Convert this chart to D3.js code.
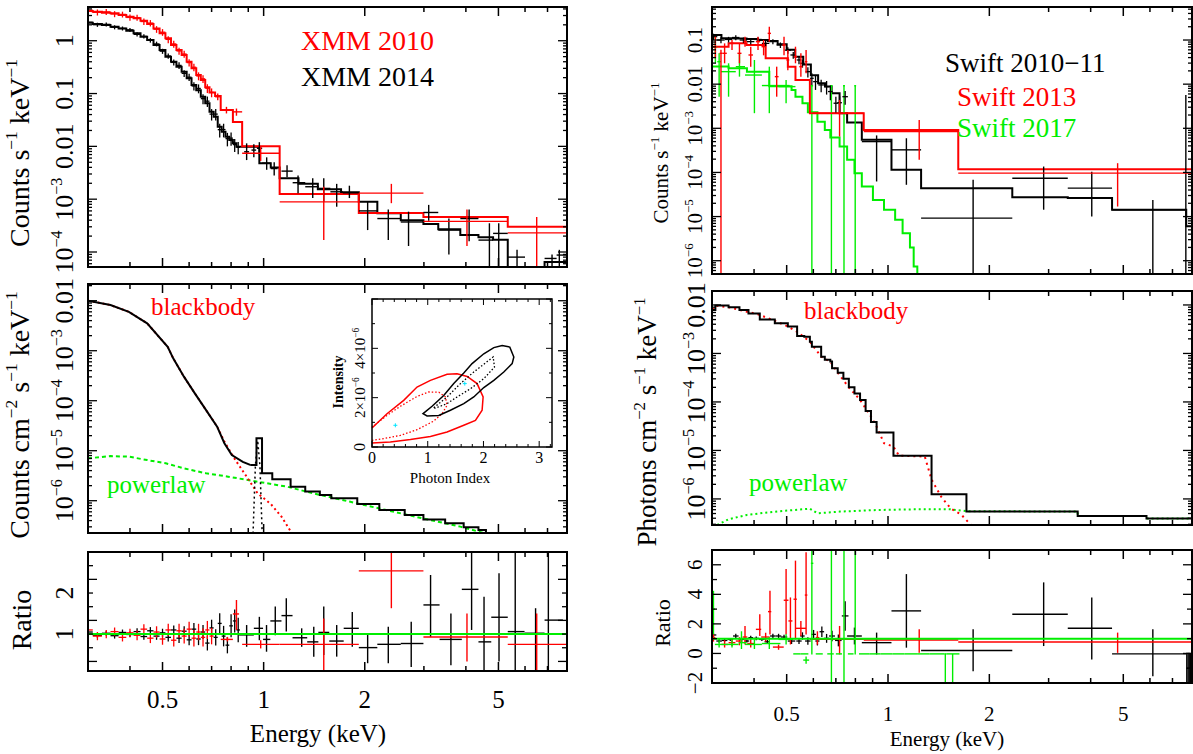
<!DOCTYPE html>
<html>
<head>
<meta charset="utf-8">
<script src="https://cdn.jsdelivr.net/npm/d3@7"></script>
<style>
  body { margin: 0; background: #fff; }
  svg { display: block; }
  text, tspan { font-family: "Liberation Serif", "DejaVu Serif", "Times New Roman", serif; }
</style>
</head>
<body>
<svg id="fig" width="1193" height="754" font-family="Liberation Serif, DejaVu Serif, serif"></svg>
<script>
// ---------------- data (energies in keV) ----------------
const energyTicks = [0.3, 0.4, 0.5, 0.6, 0.7, 0.8, 0.9, 1, 2, 3, 4, 5, 6, 7, 8];
const energyLabels = [0.5, 1, 2, 5];

// XMM folded spectra: dense points [E, rate, err]
const xmm2010Dense = [[0.30,3.78,0.5],[0.32,3.45,0.45],[0.34,3.52,0.45],[0.36,3.21,0.42],[0.38,3.15,0.4],[0.40,2.76,0.37],
  [0.42,2.74,0.35],[0.44,2.31,0.32],[0.46,2.16,0.3],[0.48,1.65,0.24],[0.50,1.45,0.21],[0.52,1.06,0.16],[0.54,0.87,0.13],
  [0.56,0.64,0.1],[0.58,0.56,0.085],[0.60,0.385,0.06],[0.62,0.315,0.05],[0.64,0.215,0.037],[0.66,0.19,0.032],
  [0.68,0.126,0.024],[0.70,0.105,0.02]];
const xmm2014Dense = [[0.30,2.24,0.2],[0.32,2.01,0.18],[0.34,2.04,0.18],[0.36,1.80,0.16],[0.38,1.71,0.15],[0.40,1.61,0.14],
  [0.42,1.32,0.12],[0.44,1.21,0.11],[0.46,1.02,0.1],[0.48,0.87,0.09],[0.50,0.634,0.07],[0.52,0.514,0.06],[0.54,0.389,0.05],
  [0.56,0.341,0.05],[0.58,0.241,0.035],[0.60,0.204,0.032],[0.62,0.139,0.025],[0.64,0.125,0.024],[0.66,0.080,0.017],
  [0.68,0.0717,0.016],[0.70,0.0408,0.01],[0.72,0.0408,0.01],[0.74,0.0207,0.006],[0.76,0.0208,0.006],[0.78,0.0140,0.004],
  [0.80,0.0143,0.004],[0.82,0.0108,0.003],[0.84,0.0096,0.0025]];
// binned points [Elo, Ehi, E, value, low, high]
const xmm2010Bins = [[0.717,0.745,0.73,0.087,0.075,0.1],[0.745,0.81,0.775,0.0487,0.042,0.056],[0.81,0.863,0.83,0.045,0.038,0.052],
  [0.863,1.116,0.98,0.0074,0.0053,0.0098],[1.116,1.92,1.51,0.00089,0.000168,0.00172],[1.92,2.99,2.40,0.0013,0.00084,0.00195],
  [2.99,5.33,4.03,0.00038,0.00013,0.00064],[5.33,8.0,6.5,0.00023,0.00003,0.00046]];
const xmm2014Bins = [[0.875,0.905,0.89,0.0079,0.0055,0.0114],[0.92,0.95,0.935,0.0085,0.0062,0.011],[0.955,0.99,0.971,0.0092,0.007,0.012],
  [0.99,1.05,1.021,0.0048,0.0036,0.0062],[1.05,1.10,1.075,0.0038,0.0028,0.005],[1.13,1.22,1.174,0.0034,0.0026,0.0044],
  [1.22,1.33,1.266,0.00205,0.0013,0.0028],[1.33,1.46,1.40,0.00172,0.00105,0.0025],[1.46,1.58,1.51,0.0016,0.00088,0.0025],
  [1.58,1.72,1.65,0.00138,0.00072,0.00195],[1.72,1.92,1.80,0.00132,0.00105,0.0018],[1.92,2.18,2.04,0.0006,0.00026,0.00089],
  [2.18,2.56,2.35,0.00043,0.000168,0.00064],[2.56,2.99,2.70,0.00037,0.00013,0.00058],[2.99,3.31,3.10,0.00056,0.00039,0.00078],
  [3.31,3.85,3.56,0.00026,0.00009,0.00043],[3.85,4.36,4.09,0.00043,0.00016,0.00064],[4.36,4.82,4.70,0.000168,0.00003,0.00035],
  [4.82,5.33,5.01,0.000225,0.00003,0.00035],[5.33,6.0,5.68,0.00008,0.00003,0.00011],[6.86,7.45,7.22,0.0000755,0.00003,0.00009],
  [7.45,8.0,7.59,0.0000875,0.00003,0.00011]];
// model histograms [bin start E, value]
const xmm2010Model = [[0.29,3.65],[0.31,3.55],[0.33,3.40],[0.35,3.30],[0.37,3.07],[0.39,2.85],[0.41,2.65],[0.43,2.39],[0.45,2.07],
  [0.47,1.71],[0.49,1.38],[0.51,1.11],[0.53,0.83],[0.55,0.667],[0.57,0.536],[0.59,0.401],[0.61,0.30],[0.63,0.224],[0.65,0.18],
  [0.67,0.131],[0.69,0.105],[0.717,0.09],[0.745,0.049],[0.81,0.029],[0.863,0.0101],[1.116,0.00125],[1.92,0.00055],
  [2.99,0.00046],[5.33,0.0003],[8.5,0.0003]];
const xmm2014Model = [[0.29,2.20],[0.31,2.07],[0.33,1.98],[0.35,1.84],[0.37,1.71],[0.39,1.55],[0.41,1.38],[0.43,1.19],[0.45,1.03],
  [0.47,0.83],[0.49,0.667],[0.51,0.499],[0.53,0.401],[0.55,0.322],[0.57,0.259],[0.59,0.194],[0.61,0.145],[0.63,0.116],
  [0.65,0.087],[0.67,0.0652],[0.69,0.0453],[0.71,0.0364],[0.73,0.0235],[0.75,0.0189],[0.77,0.0152],[0.79,0.0132],
  [0.81,0.0114],[0.83,0.0098],[0.971,0.0048],[1.05,0.0040],[1.116,0.0025],[1.27,0.00195],[1.45,0.00155],[1.7,0.00135],
  [1.92,0.00089],[2.18,0.00054],[2.56,0.0004],[2.99,0.00034],[3.31,0.00027],[3.85,0.00021],[4.36,0.00019],[4.82,0.00017],
  [5.33,0.00002],[6.86,0.000065],[8.5,0.000065]];

// XMM unfolded model components
const xmmTotalSmooth = [[0.30,0.0100],[0.35,0.0082],[0.397,0.0060],[0.45,0.00353],[0.518,0.0012],[0.538,0.000705],[0.579,0.000303],
  [0.624,0.00014],[0.674,0.000065],[0.727,0.0000303],[0.764,0.0000141],[0.804,0.0000082],[0.867,0.000006],[0.912,0.0000052]];
const xmmTotalSteps = [[0.912,0.0000052],[0.952,0.0000177],[0.989,0.00000353],[1.061,0.00000268],[1.203,0.00000191],
  [1.33,0.00000152],[1.47,0.0000013],[1.59,0.00000112],[1.90,0.00000086],[2.21,0.00000065],[2.63,0.00000052],
  [2.99,0.00000042],[3.47,0.000000353],[3.94,0.000000294],[4.36,0.00000026],[4.59,0.000000223],[5.2,0.0000002]];
const xmmBlackbody = [[0.30,0.0100],[0.35,0.0082],[0.397,0.006],[0.45,0.00353],[0.518,0.0012],[0.538,0.000705],[0.579,0.000303],
  [0.624,0.00014],[0.674,0.000065],[0.727,0.0000303],[0.764,0.0000152],[0.824,0.0000065],[0.89,0.00000303],[0.959,0.00000141],
  [1.05,0.00000086],[1.13,0.00000048],[1.21,0.00000023]];
const xmmPowerlaw = [[0.30,0.00000705],[0.35,0.0000078],[0.397,0.0000076],[0.45,0.0000065],[0.511,0.0000056],[0.579,0.00000444],
  [0.674,0.00000353],[0.784,0.00000303],[0.959,0.0000024],[1.174,0.00000191],[1.40,0.00000141],[1.80,0.00000096],
  [2.32,0.00000065],[2.99,0.00000044],[3.85,0.000000303],[4.59,0.00000022]];
const xmmLine = [[0.93,0.00000022],[0.945,0.000005],[0.96,0.000016],[0.975,0.000005],[0.99,0.00000022]];

// XMM ratio
const ratio2010Dense = [[0.30,1.1,0.12],[0.32,0.95,0.1],[0.34,1.0,0.1],[0.36,1.06,0.1],[0.38,0.92,0.1],[0.40,1.03,0.1],
  [0.42,0.97,0.12],[0.44,1.12,0.12],[0.46,0.9,0.12],[0.48,1.05,0.14],[0.50,0.88,0.14],[0.52,1.1,0.15],[0.54,0.85,0.15],
  [0.56,1.08,0.17],[0.58,0.95,0.18],[0.60,1.12,0.18],[0.62,0.9,0.2],[0.64,1.05,0.2],[0.66,0.92,0.22],[0.68,1.1,0.22],[0.70,0.95,0.2]];
const ratio2014Dense = [[0.30,1.05,0.06],[0.32,0.97,0.06],[0.34,1.02,0.06],[0.36,0.96,0.07],[0.38,1.04,0.07],[0.40,0.99,0.07],
  [0.42,1.06,0.08],[0.44,0.94,0.08],[0.46,1.08,0.09],[0.48,0.95,0.09],[0.50,1.03,0.1],[0.52,0.92,0.1],[0.54,1.1,0.11],
  [0.56,0.9,0.12],[0.58,1.07,0.12],[0.60,0.86,0.13],[0.62,1.12,0.15],[0.64,0.88,0.15],[0.66,1.05,0.17],[0.68,0.78,0.18],
  [0.70,1.15,0.2],[0.72,0.92,0.2],[0.74,1.26,0.25],[0.76,0.95,0.25],[0.78,0.73,0.2],[0.80,1.2,0.28],[0.82,1.32,0.28],[0.84,1.1,0.3]];
const ratio2010Bins = [[0.745,0.81,0.78,0.87,0.82,0.93],[0.81,0.845,0.83,1.49,1.10,1.83],[0.863,1.116,0.98,0.75,0.65,0.85],
  [1.116,1.92,1.51,0.75,0.08,1.38],[1.92,2.99,2.40,2.54,1.63,3.01],[2.99,5.33,4.03,0.93,0.33,1.50],[5.33,8.0,6.50,0.75,0.08,1.50]];
const ratio2014Bins = [[0.845,0.935,0.890,0.98,0.69,1.22],[0.935,0.996,0.971,1.14,0.85,1.42],[0.996,1.047,1.02,0.87,0.57,1.22],
  [1.047,1.13,1.083,1.32,0.97,1.67],[1.13,1.219,1.168,1.45,1.06,1.87],[1.219,1.348,1.298,0.91,0.69,1.14],
  [1.348,1.455,1.41,0.81,0.45,1.18],[1.455,1.568,1.51,1.04,0.49,1.67],[1.568,1.731,1.65,0.83,0.45,1.22],
  [1.731,1.92,1.836,1.14,0.69,1.54],[1.92,2.18,2.04,0.67,0.29,0.98],[2.18,2.56,2.35,0.75,0.29,1.18],
  [2.56,2.99,2.75,0.77,0.2,1.30],[2.99,3.34,3.14,1.71,0.93,2.44],[3.34,3.89,3.61,0.87,0.24,1.50],
  [3.89,4.36,4.16,2.09,1.10,3.17],[4.36,4.76,4.53,0.81,0.12,1.91],[4.76,5.33,5.02,1.41,0.33,2.48],
  [5.33,5.98,5.61,1.06,0.12,3.17],[5.98,6.86,6.45,1.02,0.12,1.63],[6.86,7.78,7.04,1.34,0.12,3.17]];

// contour inset [photon index, intensity in 1e-6]
const contourBlack68 = [[1.108,1.59],[1.347,2.03],[1.587,2.57],[1.826,3.04],[2.174,3.65],[2.198,3.24],[2.006,2.77],
  [1.766,2.36],[1.527,2.03],[1.347,1.76],[1.138,1.58]];
const contourBlack90 = [[0.916,1.35],[1.078,1.65],[1.287,2.09],[1.467,2.57],[1.647,3.0],[1.796,3.38],[2.006,3.78],[2.186,4.03],
  [2.335,4.11],[2.473,4.05],[2.545,3.65],[2.515,3.38],[2.365,3.04],[2.186,2.70],[2.006,2.41],[1.826,2.03],[1.647,1.76],
  [1.407,1.49],[1.198,1.28],[0.988,1.26]];
const contourRed68 = [[0,0.81],[0.269,1.28],[0.509,1.65],[0.808,2.05],[1.018,2.23],[1.198,2.22],[1.317,2.03],[1.347,1.69],
  [1.257,1.35],[1.108,1.05],[0.808,0.70],[0.509,0.47],[0.210,0.34],[0,0.27]];
const contourRed90 = [[0,0.77],[0.269,1.35],[0.569,1.89],[0.808,2.43],[1.048,2.70],[1.347,2.95],[1.527,2.97],[1.707,2.86],
  [1.886,2.57],[1.994,2.03],[1.976,1.49],[1.856,1.08],[1.647,0.88],[1.347,0.61],[1.048,0.43],[0.689,0.30],[0.329,0.20],[0,0.16]];
const bestFits = [[0.419,0.88],[1.665,2.57]];

// Swift folded spectra
const swift1011Dense = [[0.303,0.119,0.02],[0.319,0.1,0.015],[0.336,0.103,0.015],[0.353,0.114,0.015],[0.372,0.1,0.014],
  [0.391,0.092,0.013],[0.411,0.103,0.013],[0.433,0.084,0.012],[0.455,0.092,0.012],[0.479,0.077,0.011],[0.504,0.059,0.01],
  [0.523,0.0458,0.008],[0.544,0.0353,0.007],[0.557,0.0297,0.006],[0.578,0.0192,0.005],[0.594,0.0136,0.004],[0.609,0.0114,0.004],
  [0.633,0.0096,0.003],[0.657,0.0088,0.003],[0.674,0.0068,0.0025],[0.700,0.0037,0.0015],[0.718,0.0038,0.0015],[0.746,0.0052,0.0018]];
const swift1011Bins = [[0.836,1.024,0.925,0.0005,0.0000624,0.00069],[1.024,1.254,1.134,0.000325,0.0000525,0.000595],
  [1.254,2.34,1.79,0.0000092,0.0000003,0.0000682],[2.34,3.42,2.90,0.0000741,0.0000143,0.000136],
  [3.42,4.63,4.03,0.000044,0.0000101,0.000103],[4.63,7.69,6.12,0.0000143,0.0000003,0.0000237],
  [7.62,7.72,7.67,0.00001,0.0000003,0.0057]];
const swift2013Bins = [[0.303,0.311,0.307,0.0706,0.0385,0.119],[0.316,0.322,0.319,0.05,0.0000003,0.06],
  [0.322,0.332,0.327,0.05,0.0297,0.084],[0.339,0.349,0.344,0.084,0.0594,0.1],[0.357,0.367,0.362,0.05,0.0297,0.084],
  [0.372,0.381,0.376,0.0917,0.0706,0.119],[0.385,0.397,0.391,0.0458,0.0249,0.0706],[0.405,0.417,0.411,0.0917,0.0594,0.119],
  [0.421,0.433,0.427,0.0706,0.045,0.1],[0.439,0.449,0.444,0.1416,0.0917,0.2],[0.461,0.473,0.467,0.0148,0.0052,0.0249],
  [0.485,0.497,0.491,0.077,0.045,0.119],[0.499,0.509,0.504,0.0353,0.0206,0.0594],[0.525,0.537,0.531,0.042,0.0297,0.0706],
  [0.545,0.557,0.551,0.0249,0.0148,0.05],[0.566,0.576,0.571,0.0323,0.0176,0.0594],[0.586,0.847,0.718,0.0022,0.00065,0.0044],
  [0.847,1.617,1.238,0.00084,0.000193,0.00155],[1.617,8.1,4.81,0.0000964,0.0000169,0.000162]];
const swift2017Bins = [[0.303,0.311,0.307,0.0706,0.0297,0.119],[0.311,0.319,0.315,0.0323,0.0052,0.05],
  [0.319,0.353,0.336,0.0192,0.0052,0.0297],[0.353,0.376,0.362,0.0249,0.0148,0.05],[0.376,0.422,0.401,0.0161,0.0022,0.0353],
  [0.422,0.51,0.444,0.0093,0.0022,0.0249],[0.473,0.531,0.498,0.0088,0.0037,0.0124],[0.589,0.599,0.594,0.0092,0.0000003,0.0095],
  [0.674,0.684,0.679,0.0092,0.0000003,0.0095],[0.735,0.745,0.740,0.0092,0.0000003,0.0095],[0.794,0.804,0.799,0.0092,0.0000003,0.0095]];
const swift1011Model = [[0.30,0.13],[0.32,0.11],[0.35,0.108],[0.38,0.105],[0.41,0.10],[0.44,0.095],[0.47,0.08],[0.50,0.06],
  [0.53,0.042],[0.56,0.028],[0.59,0.016],[0.62,0.0105],[0.65,0.0088],[0.68,0.0062],[0.718,0.0022],[0.756,0.00135],
  [0.836,0.000547],[1.024,0.000115],[1.254,0.000044],[2.34,0.0000273],[3.42,0.0000262],[4.63,0.0000143],[7.69,0.000006],[8.5,0.000006]];
const swift2013Model = [[0.30,0.0706],[0.336,0.084],[0.38,0.077],[0.433,0.0385],[0.504,0.0249],[0.531,0.0124],[0.586,0.0022],
  [0.847,0.00092],[1.617,0.000118],[8.5,0.000118]];
const swift2017Model = [[0.30,0.025],[0.336,0.023],[0.381,0.019],[0.444,0.009],[0.517,0.0074],[0.531,0.0052],[0.557,0.0037],
  [0.578,0.0023],[0.617,0.0014],[0.649,0.00092],[0.674,0.00062],[0.718,0.000386],[0.756,0.000193],[0.795,0.000096],
  [0.836,0.000048],[0.902,0.0000237],[0.973,0.0000143],[1.050,0.0000085],[1.105,0.0000042],[1.162,0.000002],
  [1.192,0.00000074],[1.222,0.0000004]];

// Swift unfolded model components
const swiftTotal = [[0.302,0.0079],[0.307,0.0097],[0.336,0.009],[0.362,0.0079],[0.385,0.0067],[0.416,0.0050],[0.461,0.0042],
  [0.504,0.0036],[0.537,0.0023],[0.564,0.0022],[0.586,0.00175],[0.594,0.00138],[0.633,0.00086],[0.649,0.00074],[0.674,0.00068],
  [0.682,0.000495],[0.709,0.0004],[0.737,0.0003],[0.765,0.0002],[0.795,0.00015],[0.826,0.00011],[0.858,0.000065],
  [0.890,0.0000387],[0.925,0.0000233],[1.038,0.0000078],[1.347,0.00000125],[1.71,0.000000548],[3.66,0.000000446],
  [5.86,0.000000393],[8.5,0.000000393]];
const swiftBlackbody = [[0.302,0.0079],[0.307,0.0097],[0.336,0.009],[0.362,0.0079],[0.411,0.0064],[0.455,0.0049],[0.504,0.0036],
  [0.537,0.0028],[0.586,0.00175],[0.633,0.00086],[0.674,0.00068],[0.709,0.0004],[0.765,0.0002],[0.826,0.00011],[0.890,0.00005],
  [0.925,0.000031],[0.973,0.0000141],[1.038,0.000012],[1.078,0.0000078],[1.286,0.0000075],[1.347,0.0000025],[1.44,0.0000011],
  [1.534,0.00000064],[1.653,0.00000047],[1.763,0.00000029]];
const swiftPowerlaw = [[0.311,2.91e-7],[0.336,3.81e-7],[0.381,4.68e-7],[0.433,5.2e-7],[0.491,5.7e-7],[0.557,6.1e-7],[0.586,6.3e-7],
  [0.617,5.07e-7],[0.649,5.2e-7],[0.718,5.48e-7],[0.925,5.9e-7],[1.192,6.1e-7],[1.534,6.1e-7],[1.71,5.6e-7],[3.66,5.48e-7],
  [3.66,4.46e-7],[5.86,4.46e-7],[5.86,3.93e-7],[8.5,3.93e-7]];

// Swift ratio
const sratio1011Dense = [[0.303,1.25,0.15],[0.315,0.84,0.12],[0.327,0.88,0.12],[0.340,0.95,0.1],[0.353,1.18,0.15],[0.367,0.95,0.12],
  [0.381,0.84,0.1],[0.391,1.07,0.12],[0.406,1.02,0.12],[0.422,0.95,0.1],[0.438,0.79,0.12],[0.455,1.18,0.15],[0.473,1.18,0.15],
  [0.491,1.11,0.15],[0.517,0.84,0.2],[0.544,0.84,0.2],[0.557,1.18,0.25],[0.578,0.84,0.25],[0.601,1.29,0.3],[0.617,0.84,0.3],
  [0.636,1.47,0.35],[0.657,1.02,0.3],[0.682,1.18,0.35],[0.712,0.88,0.4],[0.746,2.54,1.0]];
const sratio1011Bins = [[0.756,0.836,0.795,1.18,0.61,1.75],[0.836,1.024,0.925,0.73,-0.07,1.41],[1.024,1.254,1.134,2.88,0.39,5.37],
  [1.254,2.34,1.79,0.20,-1.20,1.63],[2.34,3.42,2.90,2.65,0.50,4.81],[3.42,4.63,4.03,1.70,-0.41,3.79],
  [4.63,7.69,6.12,-0.03,-1.54,1.63],[7.70,7.76,7.72,-1.0,-2.5,0.04],[7.76,7.82,7.79,-1.0,-2.5,0.04],
  [7.82,7.88,7.85,-1.0,-2.5,0.04],[7.88,7.94,7.91,-1.0,-2.5,0.04]];
const sratio2013Bins = [[0.300,0.307,0.303,1.07,0.8,1.3],[0.32,0.335,0.327,0.61,0.4,0.9],[0.336,0.352,0.344,0.73,0.5,1.0],
  [0.353,0.37,0.362,0.84,0.55,1.1],[0.37,0.382,0.376,1.11,0.61,1.86],[0.382,0.40,0.391,0.67,0.4,0.95],
  [0.405,0.42,0.416,1.63,1.18,2.65],[0.42,0.445,0.433,1.11,0.8,1.4],[0.44,0.45,0.446,2.83,1.29,4.24],
  [0.455,0.49,0.473,0.43,0.25,0.6],[0.49,0.506,0.498,3.6,1.29,5.71],[0.506,0.52,0.513,2.2,0.61,3.79],
  [0.524,0.536,0.531,3.67,0.95,6.28],[0.531,0.571,0.551,1.70,1.18,2.2],[0.566,0.576,0.571,3.95,1.29,6.85],
  [0.61,0.625,0.617,1.07,0.6,1.5],[0.586,0.847,0.718,0.95,-0.07,1.86],[0.847,1.617,1.238,0.91,0.04,1.63],
  [1.617,8.1,4.81,0.77,0.04,1.41]];
const sratio2017Bins = [[0.300,0.306,0.303,3.0,1.29,4.24],[0.306,0.33,0.315,0.61,0.4,0.9],[0.33,0.36,0.344,0.61,0.4,0.9],
  [0.36,0.38,0.367,0.73,0.3,1.5],[0.376,0.422,0.401,0.61,0.3,0.95],[0.422,0.479,0.444,0.67,0.3,1.1],
  [0.473,0.523,0.498,0.95,0.6,1.3],[0.523,0.55,0.536,-0.03,-0.03,-0.03],[0.55,0.58,0.565,-0.03,-0.03,-0.03],
  [0.560,0.583,0.571,-0.45,-0.7,-0.2],[0.59,0.60,0.594,6.1,-0.07,8],[0.61,0.64,0.625,-0.03,-0.03,-0.03],
  [0.66,0.69,0.675,-0.03,-0.03,-0.03],[0.679,0.679,0.679,3,-2.5,8],[0.70,0.73,0.715,-0.03,-0.03,-0.03],
  [0.740,0.740,0.740,3,-2.5,8],[0.76,0.79,0.775,-0.03,-0.03,-0.03],[0.799,0.799,0.799,3,-0.07,8],
  [0.82,0.88,0.85,-0.03,-0.03,-0.03],[0.88,0.95,0.915,-0.03,-0.03,-0.03],[0.95,1.03,0.99,-0.03,-0.03,-0.03],
  [1.03,1.12,1.075,-0.03,-0.03,-0.03],[1.12,1.22,1.17,-0.03,-0.03,-0.03],[1.22,1.33,1.275,-0.03,-0.03,-0.03],
  [1.33,1.47,1.40,-0.03,-0.03,-0.03],[1.47,1.49,1.48,-0.03,-2.5,-0.03],[1.49,1.63,1.556,-0.03,-2.5,-0.03]];

// ---------------- drawing ----------------
const RED = "#ff0000", GREEN = "#00ee00", BLACK = "#000";
const SERIF = "Liberation Serif, DejaVu Serif, serif";
const svg = d3.select("#fig");
let clipCount = 0;

function panel(box, yLog, yDomain) {
  const x = d3.scaleLog().domain([0.3, 8]).range([box.x0, box.x1]);
  const y = (yLog ? d3.scaleLog() : d3.scaleLinear()).domain(yDomain).range([box.y1, box.y0]);
  const id = "clip" + (clipCount++);
  svg.append("clipPath").attr("id", id).append("rect")
    .attr("x", box.x0).attr("y", box.y0).attr("width", box.x1 - box.x0).attr("height", box.y1 - box.y0);
  const plot = svg.append("g").attr("clip-path", `url(#${id})`);
  const axes = svg.append("g");
  // clamp for log axes so error bars running to zero still reach the bottom
  const yv = v => yLog ? y(Math.max(v, yDomain[0] * 0.3)) : y(v);
  return { x, y, yv, plot, axes, box, yLog };
}

function frame(p, yTicks) {
  const { x, axes, box } = p;
  axes.append("rect").attr("x", box.x0).attr("y", box.y0)
    .attr("width", box.x1 - box.x0).attr("height", box.y1 - box.y0)
    .attr("fill", "none").attr("stroke", BLACK).attr("stroke-width", 2);
  energyTicks.forEach(e => {
    const len = energyLabels.includes(e) ? 9 : 5, xx = x(e);
    axes.append("line").attr("x1", xx).attr("x2", xx).attr("y1", box.y1).attr("y2", box.y1 - len)
      .attr("stroke", BLACK).attr("stroke-width", 1.5);
    axes.append("line").attr("x1", xx).attr("x2", xx).attr("y1", box.y0).attr("y2", box.y0 + len)
      .attr("stroke", BLACK).attr("stroke-width", 1.5);
  });
  yTicks.forEach(([v, len]) => {
    const yy = p.y(v);
    axes.append("line").attr("x1", box.x0).attr("x2", box.x0 + len).attr("y1", yy).attr("y2", yy)
      .attr("stroke", BLACK).attr("stroke-width", 1.3);
    axes.append("line").attr("x1", box.x1).attr("x2", box.x1 - len).attr("y1", yy).attr("y2", yy)
      .attr("stroke", BLACK).attr("stroke-width", 1.3);
  });
}

function logTicks(domain) {
  const out = [];
  for (let k = Math.floor(Math.log10(domain[0])); k <= Math.ceil(Math.log10(domain[1])); k++) {
    for (let m = 1; m <= 9; m++) {
      const v = m * Math.pow(10, k);
      if (v >= domain[0] && v <= domain[1]) out.push([v, m === 1 ? 9 : 4]);
    }
  }
  return out;
}
function linTicks(lo, hi, step, majorEvery) {
  const out = [];
  const n = Math.round((hi - lo) / step);
  for (let i = 0; i <= n; i++) out.push([lo + i * step, i % majorEvery === 0 ? 9 : 5]);
  return out;
}

// text with superscripts; parts = [[string, isSup], ...]
function rich(g, parts, fs) {
  const t = g.append("text").attr("font-size", fs).attr("font-family", SERIF);
  let up = 0;
  parts.forEach(([s, sup]) => {
    const sh = sup ? -0.42 * fs : 0;
    t.append("tspan").attr("dy", sh - up).attr("font-size", sup ? fs * 0.62 : fs).text(s);
    up = sh;
  });
  return t;
}
function vtext(parts, bx, cy, fs, color) {
  const g = svg.append("g").attr("transform", `translate(${bx},${cy}) rotate(-90)`);
  return rich(g, parts, fs).attr("text-anchor", "middle").attr("fill", color || BLACK);
}
function htext(parts, x, y, fs, color, anchor) {
  const g = svg.append("g").attr("transform", `translate(${x},${y})`);
  return rich(g, parts, fs).attr("text-anchor", anchor || "start").attr("fill", color || BLACK);
}
function logLabel(v) {
  const k = Math.round(Math.log10(v));
  if (k >= -2) return [[k === 0 ? "1" : v.toFixed(-k), 0]];
  return [["10", 0], ["\u2212" + (-k), 1]];
}
function yLabels(p, values, fmt, bx, fs) {
  values.forEach(v => vtext(fmt(v), bx, p.y(v), fs));
}
function xLabels(p, y, fs) {
  energyLabels.forEach(e => htext([[String(e), 0]], p.x(e), y, fs, BLACK, "middle"));
}

function steps(p, pts, color, width, dash) {
  p.plot.append("path").datum(pts)
    .attr("d", d3.line().x(d => p.x(d[0])).y(d => p.yv(d[1])).curve(d3.curveStepAfter))
    .attr("fill", "none").attr("stroke", color).attr("stroke-width", width || 1.8)
    .attr("stroke-dasharray", dash || null);
}
function curve(p, pts, color, width, dash) {
  p.plot.append("path").datum(pts)
    .attr("d", d3.line().x(d => p.x(d[0])).y(d => p.yv(d[1])))
    .attr("fill", "none").attr("stroke", color).attr("stroke-width", width || 1.8)
    .attr("stroke-dasharray", dash || null);
}
function crosses(p, bins, color, width) {
  const g = p.plot.append("g").attr("stroke", color).attr("stroke-width", width || 1.4);
  bins.forEach(([lo, hi, e, v, vlo, vhi]) => {
    g.append("line").attr("x1", p.x(lo)).attr("x2", p.x(hi)).attr("y1", p.yv(v)).attr("y2", p.yv(v));
    g.append("line").attr("x1", p.x(e)).attr("x2", p.x(e)).attr("y1", p.yv(vlo)).attr("y2", p.yv(vhi));
  });
}
function denseCrosses(p, pts, color) {
  const bins = pts.map((d, i) => {
    const prev = pts[Math.max(i - 1, 0)][0], next = pts[Math.min(i + 1, pts.length - 1)][0];
    const hw = (next - prev) / (i === 0 || i === pts.length - 1 ? 2 : 4);
    return [d[0] - hw, d[0] + hw, d[0], d[1], d[1] - d[2], d[1] + d[2]];
  });
  crosses(p, bins, color, 1.3);
}
function unity(p, color) {
  p.plot.append("line").attr("x1", p.box.x0).attr("x2", p.box.x1).attr("y1", p.y(1)).attr("y2", p.y(1))
    .attr("stroke", color).attr("stroke-width", 2);
}

// ===== left column: XMM =====
const LX = { x0: 88, x1: 567 };
const lt = panel({ ...LX, y0: 7, y1: 267 }, true, [5.2e-5, 4.35]);
steps(lt, xmm2014Model, BLACK, 2);
steps(lt, xmm2010Model, RED, 2);
denseCrosses(lt, xmm2014Dense, BLACK);
denseCrosses(lt, xmm2010Dense, RED);
crosses(lt, xmm2014Bins, BLACK);
crosses(lt, xmm2010Bins, RED);
frame(lt, logTicks(lt.y.domain()));
yLabels(lt, [1e-4, 1e-3, 0.01, 0.1, 1], logLabel, 73, 26);
vtext([["Counts s", 0], ["\u22121", 1], [" keV", 0], ["\u22121", 1]], 29, 153, 28);
htext([["XMM 2010", 0]], 301, 50, 28, RED);
htext([["XMM 2014", 0]], 301, 86, 28, BLACK);

const lm = panel({ ...LX, y0: 284, y1: 533 }, true, [2.26e-7, 0.0216]);
curve(lm, xmmPowerlaw, GREEN, 2, "4,3");
curve(lm, xmmBlackbody, RED, 2, "2,3");
curve(lm, xmmLine, BLACK, 1.5, "2,3");
curve(lm, xmmTotalSmooth, BLACK, 2);
steps(lm, xmmTotalSteps, BLACK, 2);
frame(lm, logTicks(lm.y.domain()));
yLabels(lm, [1e-6, 1e-5, 1e-4, 1e-3, 0.01], logLabel, 73, 26);
vtext([["Counts cm", 0], ["\u22122", 1], [" s", 0], ["\u22121", 1], [" keV", 0], ["\u22121", 1]], 29, 415, 28);
htext([["blackbody", 0]], 151, 315, 25, RED);
htext([["powerlaw", 0]], 107, 493, 25, GREEN);

// inset: confidence contours
const IB = { x0: 372, x1: 552, y0: 299, y1: 447 };
const ix = d3.scaleLinear().domain([0, 3.23]).range([IB.x0, IB.x1]);
const iy = d3.scaleLinear().domain([0, 6]).range([IB.y1, IB.y0]);
svg.append("rect").attr("x", IB.x0).attr("y", IB.y0).attr("width", IB.x1 - IB.x0).attr("height", IB.y1 - IB.y0)
  .attr("fill", "#fff");
const inset = svg.append("g");
const cline = d3.line().x(d => ix(d[0])).y(d => iy(d[1]));
[[contourRed90, RED, null, false], [contourRed68, RED, "1.5,2", false],
 [contourBlack90, BLACK, null, true], [contourBlack68, BLACK, "1.5,2", true]].forEach(([pts, c, dash, closed]) => {
  inset.append("path").datum(pts).attr("d", cline.curve(closed ? d3.curveLinearClosed : d3.curveLinear))
    .attr("fill", "none").attr("stroke", c).attr("stroke-width", dash ? 1.3 : 1.5).attr("stroke-dasharray", dash);
});
bestFits.forEach(([a, b]) => {
  inset.append("path").attr("d", `M${ix(a) - 2},${iy(b)}h4M${ix(a)},${iy(b) - 2}v4`)
    .attr("stroke", "#00e5ff").attr("stroke-width", 1);
});
inset.append("rect").attr("x", IB.x0).attr("y", IB.y0).attr("width", IB.x1 - IB.x0).attr("height", IB.y1 - IB.y0)
  .attr("fill", "none").attr("stroke", BLACK).attr("stroke-width", 1.5);
for (let i = 0; i <= 16; i++) {
  const v = i * 0.2, len = i % 5 === 0 ? 6 : 3;
  if (ix(v) > IB.x1) break;
  inset.append("line").attr("x1", ix(v)).attr("x2", ix(v)).attr("y1", IB.y1).attr("y2", IB.y1 - len).attr("stroke", BLACK);
  inset.append("line").attr("x1", ix(v)).attr("x2", ix(v)).attr("y1", IB.y0).attr("y2", IB.y0 + len).attr("stroke", BLACK);
}
for (let i = 0; i <= 6; i++) {
  const len = i % 2 === 0 ? 6 : 3;
  inset.append("line").attr("x1", IB.x0).attr("x2", IB.x0 + len).attr("y1", iy(i)).attr("y2", iy(i)).attr("stroke", BLACK);
  inset.append("line").attr("x1", IB.x1).attr("x2", IB.x1 - len).attr("y1", iy(i)).attr("y2", iy(i)).attr("stroke", BLACK);
}
[0, 1, 2, 3].forEach(v => htext([[String(v), 0]], ix(v), 463, 16, BLACK, "middle"));
htext([["Photon Index", 0]], 450, 483, 15, BLACK, "middle");
vtext([["0", 0]], 365, iy(0), 16);
vtext([["2\u00d710", 0], ["\u22126", 1]], 365, iy(2), 15);
vtext([["4\u00d710", 0], ["\u22126", 1]], 365, iy(4), 15);
vtext([["Intensity", 0]], 343, 382, 14).attr("font-weight", "bold");

const lb = panel({ ...LX, y0: 552, y1: 671 }, false, [0.1, 3.0]);
denseCrosses(lb, ratio2014Dense, BLACK);
crosses(lb, ratio2014Bins, BLACK);
denseCrosses(lb, ratio2010Dense, RED);
crosses(lb, ratio2010Bins, RED);
unity(lb, GREEN);
frame(lb, linTicks(1 / 3, 3, 1 / 3, 3));
yLabels(lb, [1, 2], v => [[String(v), 0]], 73, 26);
vtext([["Ratio", 0]], 31, 620, 28);
xLabels(lb, 708, 25);
htext([["Energy (keV)", 0]], 318, 742, 25, BLACK, "middle");

// ===== right column: Swift =====
const RX = { x0: 712, x1: 1192 };
const rt = panel({ ...RX, y0: 7, y1: 274 }, true, [5e-7, 0.56]);
steps(rt, swift2017Model, GREEN, 2);
steps(rt, swift1011Model, BLACK, 2);
steps(rt, swift2013Model, RED, 2);
crosses(rt, swift2017Bins, GREEN);
denseCrosses(rt, swift1011Dense, BLACK);
crosses(rt, swift1011Bins, BLACK);
crosses(rt, swift2013Bins, RED);
frame(rt, logTicks(rt.y.domain()));
yLabels(rt, [1e-6, 1e-5, 1e-4, 1e-3, 0.01, 0.1], logLabel, 702, 21);
vtext([["Counts s", 0], ["\u22121", 1], [" keV", 0], ["\u22121", 1]], 668, 153, 21);
htext([["Swift 2010\u221211", 0]], 945, 72, 27, BLACK);
htext([["Swift 2013", 0]], 957, 106, 27, RED);
htext([["Swift 2017", 0]], 957, 137, 27, GREEN);

const rm = panel({ ...RX, y0: 291, y1: 525 }, true, [2.9e-7, 0.0194]);
curve(rm, swiftPowerlaw, GREEN, 2, "2,3");
curve(rm, swiftBlackbody, RED, 2, "2,4");
steps(rm, swiftTotal, BLACK, 2);
frame(rm, logTicks(rm.y.domain()));
yLabels(rm, [1e-6, 1e-5, 1e-4, 1e-3, 0.01], logLabel, 705, 26);
vtext([["Photons cm", 0], ["\u22122", 1], [" s", 0], ["\u22121", 1], [" keV", 0], ["\u22121", 1]], 656, 422, 27);
htext([["blackbody", 0]], 804, 319, 25, RED);
htext([["powerlaw", 0]], 749, 491, 25, GREEN);

const rb = panel({ ...RX, y0: 550, y1: 683 }, false, [-2, 7]);
denseCrosses(rb, sratio1011Dense, BLACK);
crosses(rb, sratio1011Bins, BLACK);
crosses(rb, sratio2013Bins, RED);
crosses(rb, sratio2017Bins, GREEN);
unity(rb, GREEN);
frame(rb, linTicks(-2, 7, 1, 2));
yLabels(rb, [-2, 0, 2, 4, 6], v => [[v < 0 ? "\u2212" + (-v) : String(v), 0]], 702, 21);
vtext([["Ratio", 0]], 670, 623, 22);
xLabels(rb, 721, 21);
htext([["Energy (keV)", 0]], 947, 746, 21, BLACK, "middle");
</script>
</body>
</html>
